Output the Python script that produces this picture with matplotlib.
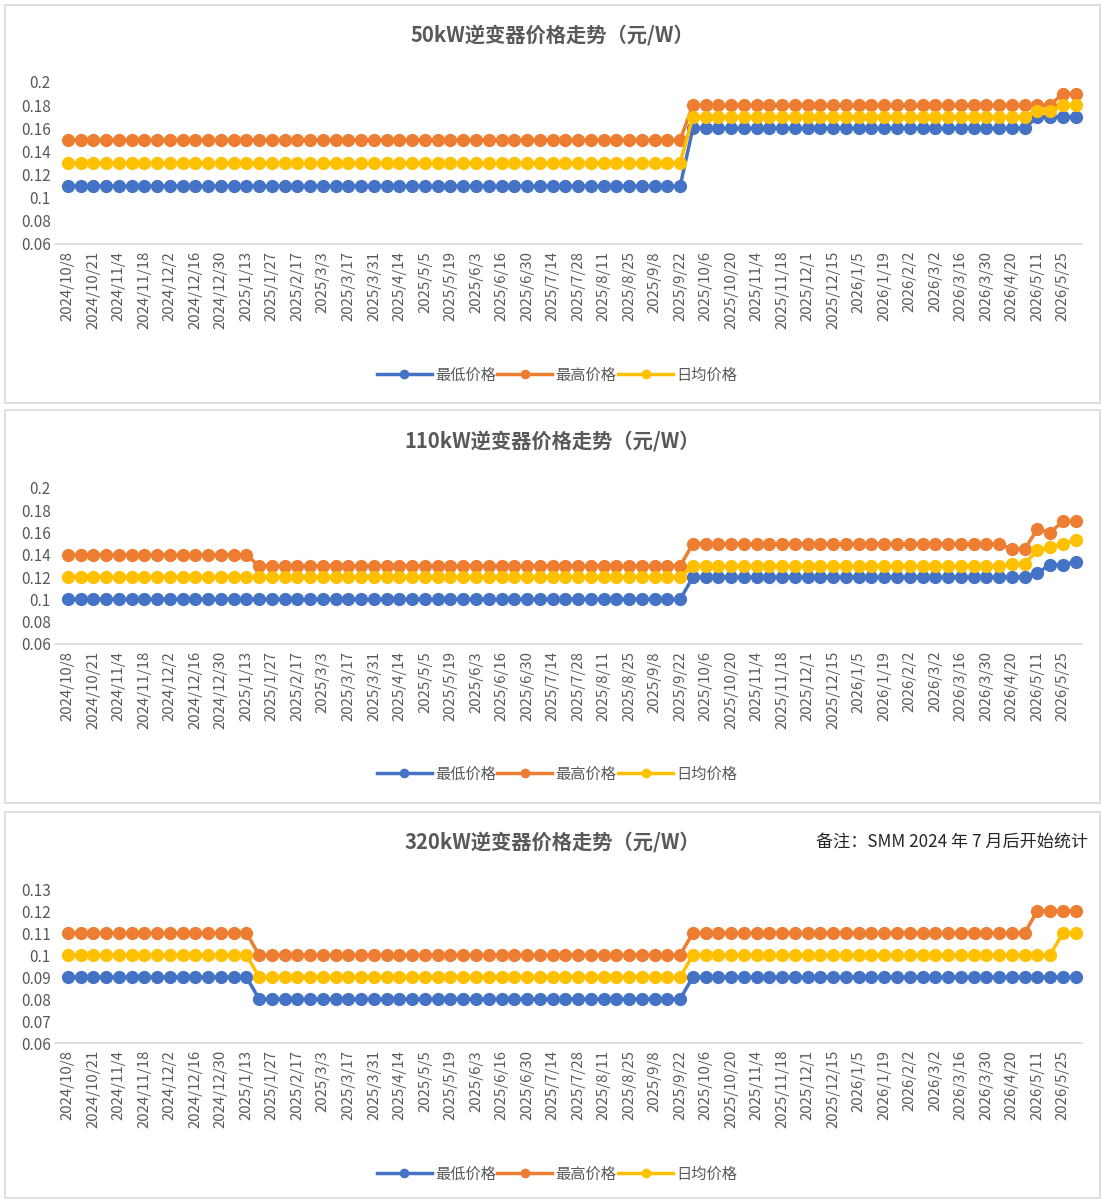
import matplotlib
matplotlib.use("Agg")
import matplotlib.pyplot as plt
from matplotlib.patches import Rectangle

plt.rcParams['font.family'] = ['Noto Sans CJK SC', 'DejaVu Sans']

# tick labels (every other weekly point is labelled)
tick_labels = [
    "2024/10/8", "2024/10/21", "2024/11/4", "2024/11/18", "2024/12/2",
    "2024/12/16", "2024/12/30", "2025/1/13", "2025/1/27", "2025/2/17",
    "2025/3/3", "2025/3/17", "2025/3/31", "2025/4/14", "2025/5/5",
    "2025/5/19", "2025/6/3", "2025/6/16", "2025/6/30", "2025/7/14",
    "2025/7/28", "2025/8/11", "2025/8/25", "2025/9/8", "2025/9/22",
    "2025/10/6", "2025/10/20", "2025/11/4", "2025/11/18", "2025/12/1",
    "2025/12/15", "2026/1/5", "2026/1/19", "2026/2/2", "2026/3/2",
    "2026/3/16", "2026/3/30", "2026/4/20", "2026/5/11", "2026/5/25",
]
n_points = 80

# 50kW
kw50_low = [0.11] * 49 + [0.16] * 27 + [0.17] * 4
kw50_high = [0.15] * 49 + [0.18] * 29 + [0.19] * 2
kw50_avg = [0.13] * 49 + [0.17] * 27 + [0.175, 0.175, 0.18, 0.18]

# 110kW
kw110_low = [0.10] * 49 + [0.12] * 27 + [0.124, 0.131, 0.131, 0.134]
kw110_high = [0.14] * 15 + [0.13] * 34 + [0.15] * 25 + [0.145, 0.145, 0.163, 0.16, 0.17, 0.17]
kw110_avg = [0.12] * 49 + [0.13] * 25 + [0.132, 0.132, 0.144, 0.147, 0.15, 0.153]

# 320kW
kw320_low = [0.09] * 15 + [0.08] * 34 + [0.09] * 31
kw320_high = [0.11] * 15 + [0.10] * 34 + [0.11] * 27 + [0.12] * 4
kw320_avg = [0.10] * 15 + [0.09] * 34 + [0.10] * 29 + [0.11] * 2

series_names = ["最低价格", "最高价格", "日均价格"]
colors = ["#4472C4", "#ED7D31", "#FFC000"]

panels = [
    {"title": "50kW逆变器价格走势（元/W）", "data": [kw50_low, kw50_high, kw50_avg],
     "box": (5, 403), "plot": (82, 244), "ylim": (0.06, 0.2),
     "yticks": [0.06, 0.08, 0.1, 0.12, 0.14, 0.16, 0.18, 0.2],
     "title_y": 35, "legend_y": 375},
    {"title": "110kW逆变器价格走势（元/W）", "data": [kw110_low, kw110_high, kw110_avg],
     "box": (410, 803), "plot": (488, 644), "ylim": (0.06, 0.2),
     "yticks": [0.06, 0.08, 0.1, 0.12, 0.14, 0.16, 0.18, 0.2],
     "title_y": 441, "legend_y": 774},
    {"title": "320kW逆变器价格走势（元/W）", "data": [kw320_low, kw320_high, kw320_avg],
     "box": (812, 1198), "plot": (889, 1043), "ylim": (0.06, 0.13),
     "yticks": [0.06, 0.07, 0.08, 0.09, 0.1, 0.11, 0.12, 0.13],
     "title_y": 842, "legend_y": 1174},
]

W, H = 1102, 1201
fig = plt.figure(figsize=(W / 100, H / 100), dpi=100)
fig.patch.set_facecolor("white")

def fy(py):
    return 1 - py / H

x = list(range(n_points))
ax_left, ax_right = 55, 1082

for p in panels:
    top, bottom = p["box"]
    fig.patches.append(Rectangle((5 / W, fy(bottom)), 1095 / W, (bottom - top) / H,
                                 transform=fig.transFigure, facecolor="none",
                                 edgecolor="#D9D9D9", linewidth=1.2, zorder=-5))
    pt, pb = p["plot"]
    ax = fig.add_axes([ax_left / W, fy(pb), (ax_right - ax_left) / W, (pb - pt) / H])
    for vals, name, c in zip(p["data"], series_names, colors):
        ax.plot(x, vals, color=c, lw=2.5, marker="o", ms=8.5, mec=c, label=name,
                solid_joinstyle="round", clip_on=False)
    ax.set_xlim(-1.0, 79.5)
    ax.set_ylim(*p["ylim"])
    ax.set_yticks(p["yticks"])
    ax.set_yticklabels([f"{v:g}" for v in p["yticks"]])
    ax.set_xticks(range(0, n_points, 2))
    ax.set_xticklabels(tick_labels, rotation=90)
    ax.tick_params(axis="x", length=0, labelsize=10.8, colors="#595959", pad=5)
    ax.tick_params(axis="y", length=0, labelsize=11, colors="#595959", pad=3)
    for s in ["top", "right", "left"]:
        ax.spines[s].set_visible(False)
    ax.spines["bottom"].set_color("#D9D9D9")
    ax.spines["bottom"].set_linewidth(1.2)
    ax.patch.set_alpha(0)

    fig.text(552 / W, fy(p["title_y"]), p["title"], ha="center", va="center",
             fontsize=14.6, fontweight="bold", color="#595959")

    handles, labels = ax.get_legend_handles_labels()
    leg = fig.legend(handles, labels, loc="center", bbox_to_anchor=(557 / W, fy(p["legend_y"])),
                     ncol=3, frameon=False, fontsize=11, handlelength=3.6,
                     handletextpad=0.2, columnspacing=0.1, markerscale=0.7)
    for t in leg.get_texts():
        t.set_color("#595959")

fig.text(1088 / W, fy(842), "备注：SMM 2024 年 7 月后开始统计", ha="right", va="center",
         fontsize=12.3, color="#262626")

fig.savefig("out.png", dpi=100, facecolor="white")
